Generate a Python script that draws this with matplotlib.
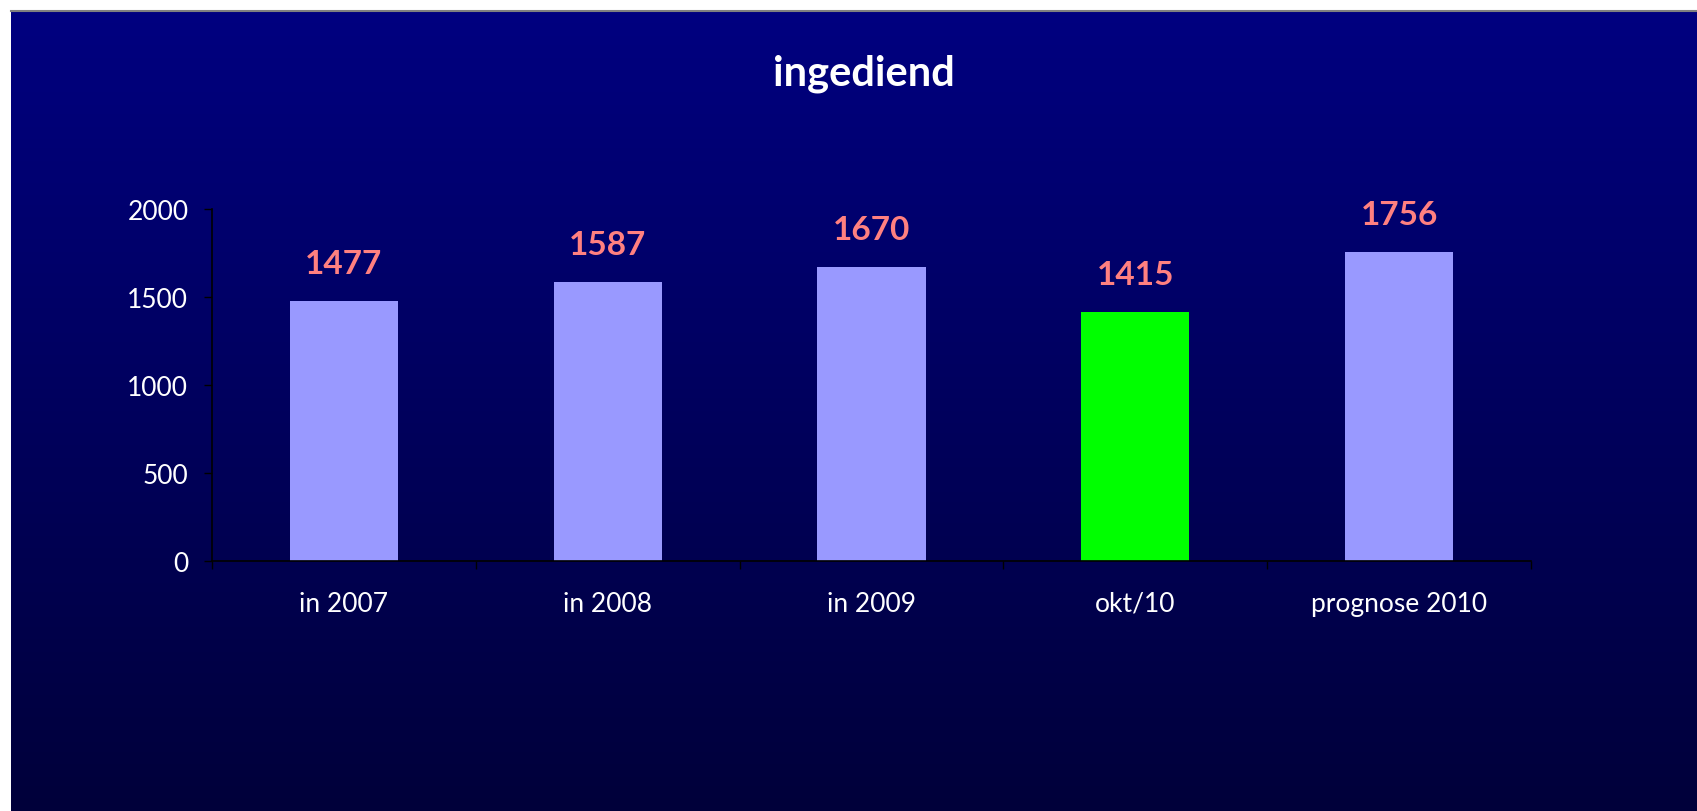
import numpy as np
import matplotlib
matplotlib.use("Agg")
import matplotlib.pyplot as plt
from matplotlib.colors import LinearSegmentedColormap

categories = ["in 2007", "in 2008", "in 2009", "okt/10", "prognose 2010"]
values = [1477, 1587, 1670, 1415, 1756]
bar_colors = ["#9999FF", "#9999FF", "#9999FF", "#00FF00", "#9999FF"]
yticks = [0, 500, 1000, 1500, 2000]
title = "ingediend"

W, H = 1697, 812
DPI = 100
plt.rcParams["font.family"] = ["Lato", "DejaVu Sans"]

fig = plt.figure(figsize=(W / DPI, H / DPI), dpi=DPI, facecolor="white")

# gradient background panel
bg = fig.add_axes([11 / W, 0, 1 - 11 / W, (H - 12) / H], zorder=0)
grad = np.linspace(0, 1, 256).reshape(-1, 1)
cmap = LinearSegmentedColormap.from_list("bg", ["#000080", "#00003A"])
bg.imshow(grad, aspect="auto", cmap=cmap, extent=[0, 1, 0, 1], origin="upper")
bg.set_xlim(0, 1)
bg.set_ylim(0, 1)
bg.axis("off")
# top gray border line
fig.add_artist(plt.Line2D([11 / W, 1], [1 - 12 / H, 1 - 12 / H], color="#808080", lw=1.5))

ax = fig.add_axes([212 / W, (H - 562) / H, (1531 - 212) / W, 352 / H], zorder=1)
ax.patch.set_alpha(0)
x = np.arange(len(categories))
ax.bar(x, values, width=0.41, color=bar_colors, zorder=2)
ax.set_xlim(-0.5, len(categories) - 0.5)
ax.set_ylim(0, 2000)

for s in ["top", "right"]:
    ax.spines[s].set_visible(False)
for s in ["left", "bottom"]:
    ax.spines[s].set_color("black")
    ax.spines[s].set_linewidth(1.2)

ax.set_yticks(yticks)
ax.set_yticklabels([str(v) for v in yticks])
ax.tick_params(axis="y", colors="black", labelcolor="white", length=6, width=1,
               direction="out", pad=11, labelsize=19)

ax.set_xticks(np.arange(-0.5, len(categories), 1.0))
ax.set_xticklabels([])
ax.tick_params(axis="x", which="major", colors="black", length=6, width=1, direction="out")
ax.set_xticks(x, minor=True)
ax.set_xticklabels(categories, minor=True)
ax.tick_params(axis="x", which="minor", length=0, labelcolor="white", labelsize=19, pad=36)
for lbl in ax.get_xticklabels(minor=True):
    lbl.set_va("baseline")

for xi, v in zip(x, values):
    ax.annotate(str(v), (xi, v), xytext=(0, 27), textcoords="offset points",
                ha="center", va="center", color="#FF8080", fontsize=24,
                fontweight="bold", zorder=3)

fig.text(864 / W, 1 - 74 / H, title, ha="center", va="center", color="white",
         fontsize=30, fontweight="bold")

fig.savefig("out.png", dpi=DPI, facecolor="white")
